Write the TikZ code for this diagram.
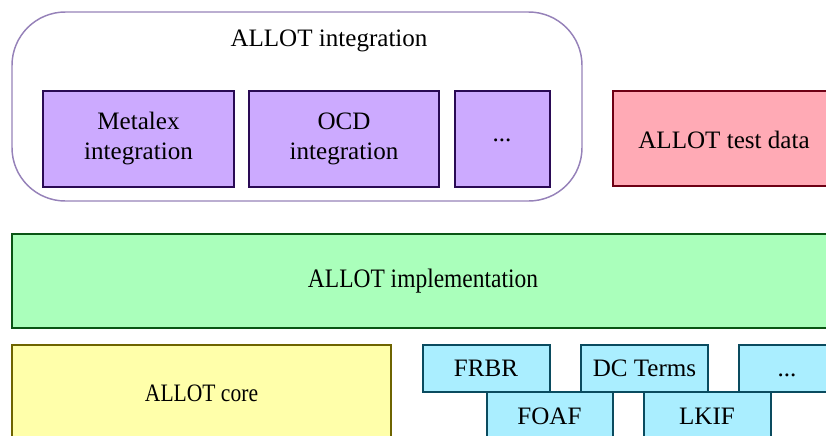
\documentclass[tikz,border=0pt]{standalone}
\usepackage{fontspec}
\usepackage{graphicx}
\setmainfont{Liberation Serif}
\usetikzlibrary{calc,positioning}

\definecolor{integfill}{RGB}{204,170,255}
\definecolor{integdraw}{RGB}{42,10,85}
\definecolor{groupdraw}{RGB}{150,130,185}
\definecolor{testfill}{RGB}{255,170,181}
\definecolor{testdraw}{RGB}{110,0,20}
\definecolor{implfill}{RGB}{170,255,187}
\definecolor{impldraw}{RGB}{10,85,20}
\definecolor{corefill}{RGB}{255,255,170}
\definecolor{coredraw}{RGB}{110,100,0}
\definecolor{ontofill}{RGB}{170,238,255}
\definecolor{ontodraw}{RGB}{10,75,95}

\begin{document}
\begin{tikzpicture}[x=0.75pt, y=-0.75pt
        , every node/.style={ font=\fontsize{18.8}{22.5}\selectfont, align=center, inner sep=0pt }
        , lbl/.style={ anchor=base }
        , box/.style={ line width=1.5pt }
        , integbox/.style={ box, draw=integdraw, fill=integfill }
        , testbox/.style={ box, draw=testdraw, fill=testfill }
        , implbox/.style={ box, draw=impldraw, fill=implfill }
        , corebox/.style={ box, draw=coredraw, fill=corefill }
        , ontobox/.style={ box, draw=ontodraw, fill=ontofill }
        ]

        \useasboundingbox (0,0) rectangle (826,436);
        \clip (0,0) rectangle (826,436);

        % integration group
        \draw[draw=groupdraw, line width=1.1pt, rounded corners=40] (12,12) rectangle (582,201);
        \node[lbl] (integ) at (329,46.7) {ALLOT integration};

        \draw[integbox] (43,91) rectangle (234,187)
            node[pos=.5] (metalex) {Metalex\\integration};
        \draw[integbox] (249,91) rectangle (439,187)
            node[pos=.5] (ocd) {OCD\\integration};
        \draw[integbox] (455,91) rectangle (550,187);
        \node[lbl] (integmore) at (502,141) {...};

        % test data
        \draw[testbox] (613,91) rectangle (840,186);
        \node[lbl] (testdata) at (724,148.3) {ALLOT test data};

        % implementation
        \draw[implbox] (12,234) rectangle (840,328);
        \node[lbl, font=\fontsize{20}{24}\selectfont] (impl) at (423,287.7)
            {\scalebox{0.88}[1]{ALLOT implementation}};

        % core and vocabularies
        \draw[corebox] (12,345) rectangle (391,445);
        \node[lbl] (core) at (201.5,401.7) {\scalebox{0.86}[1]{ALLOT core}};

        \draw[ontobox] (487,392) rectangle (613,445);
        \node[lbl] (foaf) at (549.5,424.3) {FOAF};
        \draw[ontobox] (644,392) rectangle (771,445);
        \node[lbl] (lkif) at (707,424.3) {LKIF};

        \draw[ontobox] (423,344.5) rectangle (550,392);
        \node[lbl] (frbr) at (486,376.7) {FRBR};
        \draw[ontobox] (581,344.5) rectangle (708,392);
        \node[lbl] (dcterms) at (644.5,376.7) {DC Terms};
        \draw[ontobox] (739,344.5) rectangle (870,392);
        \node[lbl] (ontomore) at (787,376.7) {...};

    \end{tikzpicture}
\end{document}
